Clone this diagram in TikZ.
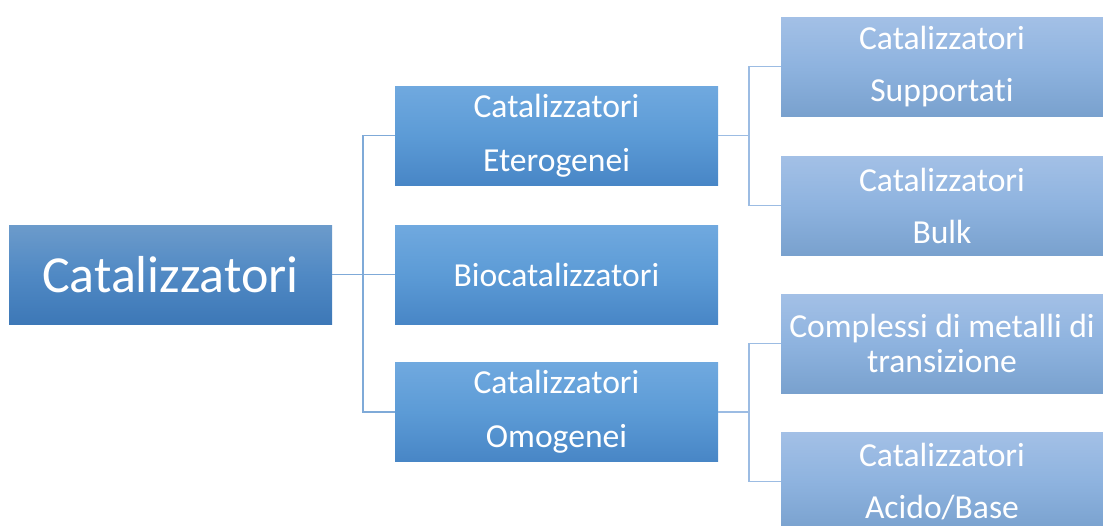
\documentclass[tikz,border=0pt]{standalone}
\usepackage{fontspec}
\setmainfont[Ligatures=NoCommon,RawFeature=-liga]{Carlito}
\begin{document}
\begin{tikzpicture}[x=1pt,y=-1pt,
  box/.style={rectangle, inner sep=0pt, outer sep=0pt, text=white, align=center,
    minimum height=99pt},
  rootbox/.style={box, minimum width=323pt, top color=rootT, bottom color=rootB, middle color=rootM,
    font=\fontsize{52}{60}\selectfont},
  midbox/.style={box, minimum width=323pt, top color=midT, bottom color=midB, middle color=midM,
    font=\fontsize{33.6}{54}\selectfont},
  leafbox/.style={box, minimum width=322pt, top color=leafT, bottom color=leafB, middle color=leafM,
    font=\fontsize{33.6}{52}\selectfont},
  linkA/.style={draw=lineA, line width=1.4pt},
  linkB/.style={draw=lineB, line width=1.4pt}
]
\definecolor{rootT}{HTML}{6C9BCB}
\definecolor{rootM}{HTML}{5089C4}
\definecolor{rootB}{HTML}{3D78B7}
\definecolor{midT}{HTML}{70A9DF}
\definecolor{midM}{HTML}{5C9BD6}
\definecolor{midB}{HTML}{4886C6}
\definecolor{leafT}{HTML}{A3C0E6}
\definecolor{leafM}{HTML}{8EB3DF}
\definecolor{leafB}{HTML}{79A1CE}
\definecolor{lineA}{HTML}{7FAAD8}
\definecolor{lineB}{HTML}{9CBCE3}
\useasboundingbox (0,0) rectangle (1103,525);
\clip (0,0) rectangle (1103,525);

\node[rootbox] (root) at (170.5,274.5) {Catalizzatori};
\node[midbox] (eter) at (556.5,135.5) {Catalizzatori\\Eterogenei};
\node[midbox] (bio) at (556.5,274.5) {Biocatalizzatori};
\node[midbox] (omo) at (556.5,412) {Catalizzatori\\Omogenei};
\node[leafbox] (supp) at (942,66.5) {Catalizzatori\\Supportati};
\node[leafbox] (bulk) at (942,205.5) {Catalizzatori\\Bulk};
\node[leafbox, font=\fontsize{33.6}{35}\selectfont] (comp) at (942,343.5) {Complessi di metalli di\\transizione};
\node[leafbox] (acid) at (942,481.5) {Catalizzatori\\Acido/Base};

\coordinate (j1) at (363,274.5);
\coordinate (j2) at (749,135.5);
\coordinate (j3) at (749,412);

\draw[linkA] (root.east) -- (bio.west);
\draw[linkA] (eter.west) -| (j1) |- (omo.west);
\draw[linkB] (eter.east) -- (j2);
\draw[linkB] (supp.west) -| (j2) |- (bulk.west);
\draw[linkB] (omo.east) -- (j3);
\draw[linkB] (comp.west) -| (j3) |- (acid.west);
\end{tikzpicture}
\end{document}
